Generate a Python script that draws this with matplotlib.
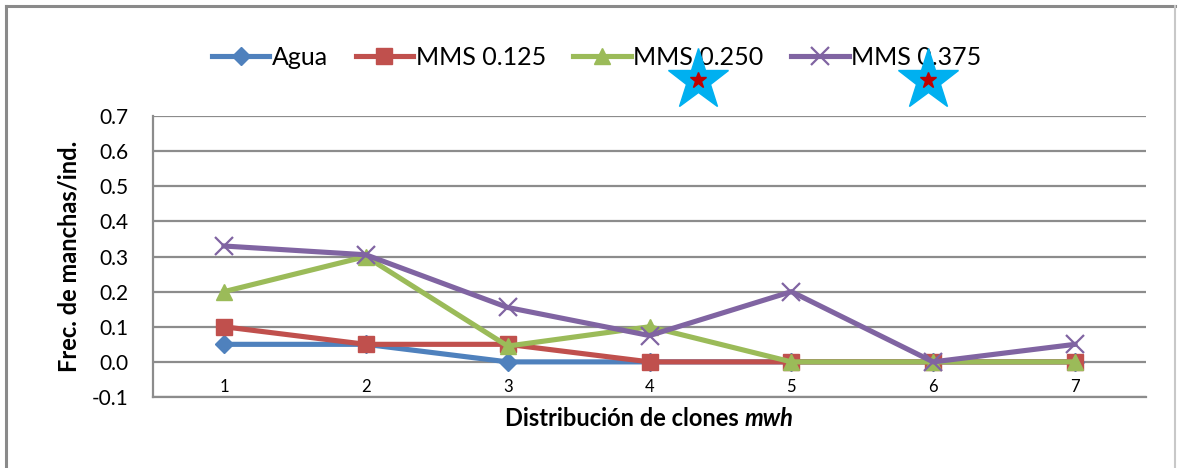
import matplotlib
matplotlib.use('Agg')
import matplotlib.pyplot as plt
from matplotlib.lines import Line2D

plt.rcParams.update({
    'font.family': ['Lato', 'DejaVu Sans'],
    'font.size': 13,
})

# Data
clones = [1, 2, 3, 4, 5, 6, 7]
agua = [0.05, 0.05, 0.0, 0.0, 0.0, 0.0, 0.0]
mms_0125 = [0.10, 0.05, 0.05, 0.0, 0.0, 0.0, 0.0]
mms_0250 = [0.20, 0.30, 0.045, 0.10, 0.0, 0.0, 0.0]
mms_0375 = [0.33, 0.305, 0.155, 0.075, 0.20, 0.0, 0.05]
y_ticks = [-0.1, 0.0, 0.1, 0.2, 0.3, 0.4, 0.5, 0.6, 0.7]

# Excel 2007 palette
C_BLUE = '#4F81BD'
C_RED = '#C0504D'
C_GREEN = '#9BBB59'
C_PURPLE = '#8064A2'
C_GRID = '#8C8C8C'

fig = plt.figure(figsize=(11.79, 4.68), dpi=100)
ax = fig.add_axes([0.1298, 0.1517, 0.8422, 0.6003])

lw = 3.7
ax.plot(clones, agua, '-D', color=C_BLUE, lw=lw, markersize=9, label='Agua', zorder=3)
ax.plot(clones, mms_0125, '-s', color=C_RED, lw=lw, markersize=11, label='MMS 0.125', zorder=4)
ax.plot(clones, mms_0250, '-^', color=C_GREEN, lw=lw, markersize=12, label='MMS 0.250', zorder=5)
ax.plot(clones, mms_0375, '-x', color=C_PURPLE, lw=lw, markersize=13, markeredgewidth=1.6,
        label='MMS 0.375', zorder=6)

ax.set_xlim(0.5, 7.5)
ax.set_ylim(-0.1, 0.7)
ax.set_yticks(y_ticks)
ax.set_yticklabels([f'{v:.1f}' for v in y_ticks], fontsize=15)
ax.set_xticks(clones)
ax.set_xticklabels([str(c) for c in clones], fontsize=12)
ax.tick_params(axis='x', length=0, pad=-13)
ax.tick_params(axis='y', length=0, pad=18)
ax.grid(axis='y', color=C_GRID, lw=1.6, zorder=0)

for side in ['top', 'right']:
    ax.spines[side].set_visible(False)
for side in ['left', 'bottom']:
    ax.spines[side].set_color(C_GRID)
    ax.spines[side].set_linewidth(1.6)

ax.set_ylabel('Frec. de manchas/ind.', fontsize=17, fontweight='bold', labelpad=8)

# x label with italic "mwh"
xl_y = 1 - 418 / 468
t1 = fig.text(0.5, xl_y, 'Distribución de clones ', fontsize=17, fontweight='bold',
              ha='left', va='center')
t2 = ax.annotate('mwh', xy=(1, 0.5), xycoords=t1, fontsize=17, fontweight='bold',
                 fontstyle='italic', ha='left', va='center')
fig.canvas.draw()
total = (t1.get_window_extent().width + t2.get_window_extent().width) / fig.bbox.width
t1.set_position((649 / 1179 - total / 2, xl_y))

fig.legend(loc='center', bbox_to_anchor=(0.506, 0.878), ncol=4, frameon=False,
           fontsize=18, handlelength=2.3, handletextpad=0.1, columnspacing=1.1)

# significance stars
for sx in [698 / 1179, 928 / 1179]:
    fig.add_artist(Line2D([sx], [1 - 80 / 468], marker='*', markersize=46,
                          color='#00B0F0', transform=fig.transFigure, zorder=10))
    fig.add_artist(Line2D([sx], [1 - 80 / 468], marker='*', markersize=12,
                          color='#C00000', transform=fig.transFigure, zorder=11))

# outer chart frame
frame_kw = dict(color='#8A8A8A', lw=2.2, transform=fig.transFigure)
fig.add_artist(Line2D([0.005, 0.997], [0.988, 0.988], **frame_kw))
fig.add_artist(Line2D([0.005, 0.005], [0.0, 0.988], **frame_kw))
fig.add_artist(Line2D([0.997, 0.997], [0.0, 0.988], color='#C8C8C8', lw=1.5,
                      transform=fig.transFigure))

fig.savefig('out.png', dpi=100)
